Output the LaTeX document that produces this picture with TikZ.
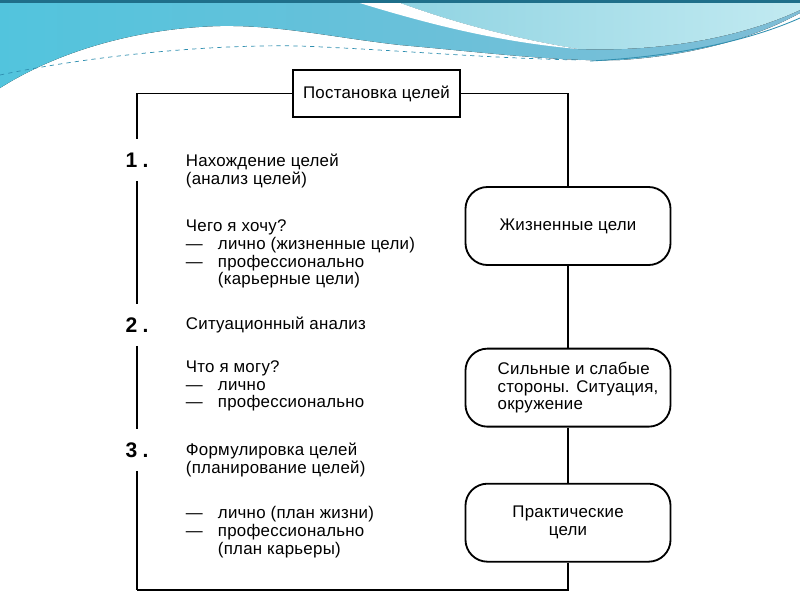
\documentclass[tikz,border=0pt]{standalone}
\usepackage{fontspec}
\setmainfont{Liberation Sans}[LetterSpace=1.5]
\newfontfamily\numfont{Liberation Sans}[LetterSpace=25]
\definecolor{wavetop}{HTML}{1F6F8A}
\definecolor{wavecyan}{HTML}{52C4DD}
\definecolor{waveblue}{HTML}{7FBDD6}
\definecolor{wavepale}{HTML}{8FD3E2}
\definecolor{wavelight}{HTML}{C2EAF1}
\definecolor{waveline}{HTML}{2F8FB0}
\newcommand{\lineitem}{\makebox[0.8cm][l]{—}}
\newcommand{\subindent}{\hspace*{0.8cm}}
\newcommand{\boxindent}{\hspace*{0.5cm}}

\begin{document}
\begin{tikzpicture}[
    x=0.025cm, y=-0.025cm,
    line width=1.3pt,
    goalbox/.style={rectangle, draw, minimum width=4.175cm, minimum height=1.175cm, font=\fontsize{12}{12.6}\selectfont},
    stagebox/.style={rectangle, draw, rounded corners=0.55cm, minimum width=5.125cm, minimum height=1.95cm, align=left, font=\fontsize{12}{12.6}\selectfont},
    num/.style={font=\numfont\bfseries\fontsize{15}{15}\selectfont, minimum height=1cm, inner sep=0pt},
    txt/.style={anchor=west, align=left, inner sep=0pt, font=\fontsize{12}{12.6}\selectfont}
]
    \useasboundingbox (0,0) rectangle (800,600);
    \fill[white] (0,0) rectangle (800,600);

    % slide header wave
    \fill[left color=wavecyan, right color=waveblue] (0,0) -- (800,0) -- (800,13)
        .. controls (760,35) and (700,55) .. (620,60) .. controls (560,62) and (480,52) .. (400,45)
        .. controls (330,37) and (280,25) .. (220,26) .. controls (140,28) and (60,50) .. (0,88) -- cycle;
    \fill[left color=wavepale, right color=wavelight] (392,0) .. controls (440,18) and (500,36) .. (578,49)
        .. controls (660,52) and (740,38) .. (800,10) -- (800,0) -- cycle;
    \fill[white] (350,0) .. controls (430,25) and (500,42) .. (578,49) .. controls (500,36) and (440,18) .. (392,0) -- cycle;
    \draw[waveline, line width=0.5pt, dashed] (0,75) .. controls (80,58) and (200,44) .. (300,46) .. controls (400,50) and (480,58) .. (580,60);
    \draw[waveline, line width=0.6pt] (590,61) .. controls (690,56) and (760,36) .. (800,18);
    \fill[wavetop] (0,0) rectangle (800,2.5);

    % boxes
    \node[goalbox] (goal) at (376.5,93.5) {Постановка целей};
    \node[stagebox, align=center] (life) at (568,226) {Жизненные цели};
    \node[stagebox, below of=life, node distance=4.04cm] (swot) {\boxindent Сильные и слабые\\\boxindent стороны. Ситуация,\\\boxindent окружение};
    \node[stagebox, align=center, below of=swot, node distance=3.375cm] (practical) {Практические\\цели};

    % stage numbers
    \node[num] (n1) at (137,160) {1.};
    \node[num] (n2) at (137,325) {2.};
    \node[num] (n3) at (137,450) {3.};
    \coordinate (corner) at (137,590);

    % stage texts
    \node[txt] (find) at (185,171) {Нахождение целей\\(анализ целей)};
    \node[txt] (want) at (185,254) {Чего я хочу?\\\lineitem лично (жизненные цели)\\\lineitem профессионально\\\subindent(карьерные цели)};
    \node[txt] (situation) at (185,325) {Ситуационный анализ};
    \node[txt] (can) at (185,386) {Что я могу?\\\lineitem лично\\\lineitem профессионально};
    \node[txt] (formulate) at (185,460) {Формулировка целей\\(планирование целей)};
    \node[txt] (plan) at (185,532) {\lineitem лично (план жизни)\\\lineitem профессионально\\\subindent(план карьеры)};

    % frame
    \draw (goal.west) -| (n1.north);
    \draw (n1.south) -- (n2.north);
    \draw (n2.south) -- (n3.north);
    \draw (n3.south) -- (corner);
    \draw (goal.east) -| (life.north);
    \draw (life.south) -- (swot.north);
    \draw (swot.south) -- (practical.north);
    \draw (practical.south) |- (corner);
\end{tikzpicture}
\end{document}
